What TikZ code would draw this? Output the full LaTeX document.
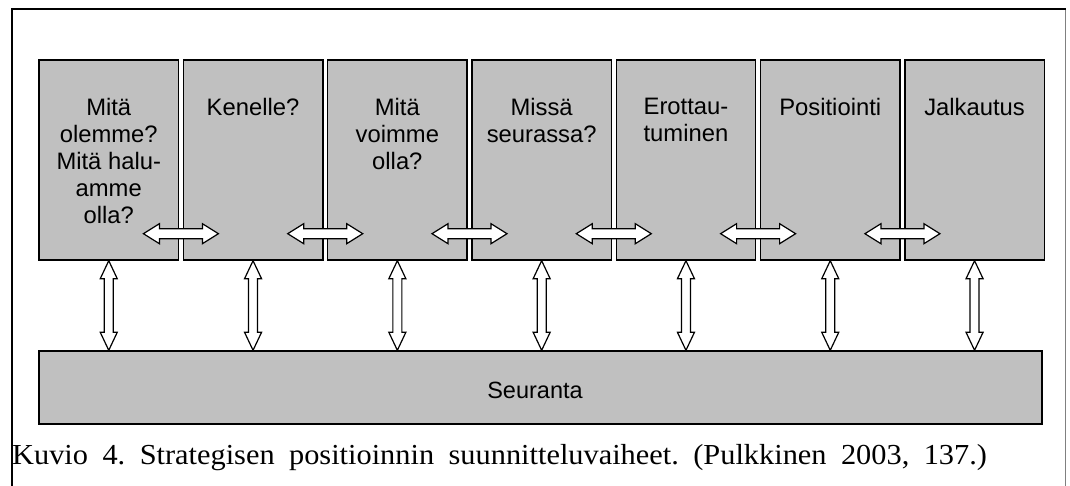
\documentclass[tikz,border=0pt]{standalone}
\usepackage{graphicx}
\usepackage{fontspec}
\setmainfont{Liberation Serif}
\newfontfamily\arialfont{Liberation Sans}
\usetikzlibrary{calc}
\definecolor{boxgrey}{HTML}{C0C0C0}
\definecolor{framegrey}{HTML}{808080}
\begin{document}
\begin{tikzpicture}[x=1pt,y=-1pt,
  stage/.style={draw=black, line width=1.4pt, fill=boxgrey, inner sep=0pt,
    minimum width=139.5pt, minimum height=200pt},
  base/.style={draw=black, line width=1.4pt, fill=boxgrey, inner sep=0pt,
    minimum width=1003pt, minimum height=73pt},
  stagetext/.style={font=\arialfont\fontsize{23.8}{26.9}\selectfont, align=center,
    inner sep=0pt, anchor=north},
  hollow/.style={draw=black, line width=1.2pt, fill=white, line join=miter},
  captiontext/.style={font=\fontsize{29}{34}\selectfont, inner sep=0pt, anchor=base west}
]
\useasboundingbox (0,0) rectangle (1070,486);
\fill[white] (0,0) rectangle (1070,486);

% frame
\draw[framegrey, line width=0.8pt] (1065.5,9) -- (1065.5,486);
\draw[black, line width=2pt] (12,486) -- (12,9) -- (1066,9);

% stage boxes
\foreach \i in {1,...,7}
  \node[stage] (b\i) at ({39+144.3*(\i-1)+69.75},160) {};

% monitoring box
\node[base] (s) at (540.5,387.5) {};
\node[font=\arialfont\fontsize{23.5}{27}\selectfont, inner sep=0pt, anchor=base]
  (st) at (535,398) {Seuranta};

% stage labels
\node[stagetext] (t1) at ($(b1.north)+(0,39)$) {Mitä\\olemme?\\Mitä halu-\\amme\\olla?};
\node[stagetext] (t2) at ($(b2.north)+(0,39)$) {Kenelle?};
\node[stagetext] (t3) at ($(b3.north)+(0,39)$) {Mitä\\voimme\\olla?};
\node[stagetext] (t4) at ($(b4.north)+(0,39)$) {Missä\\seurassa?};
\node[stagetext] (t5) at ($(b5.north)+(0,39)$) {Erottau-\\tuminen};
\node[stagetext] (t6) at ($(b6.north)+(0,39)$) {Positiointi};
\node[stagetext] (t7) at ($(b7.north)+(0,39)$) {Jalkautus};

% horizontal two-way arrows across the gaps
\foreach \i [evaluate=\i as \j using int(\i+1)] in {1,...,6} {
  \coordinate (hm\i) at ($($(b\i.south east)!0.5!(b\j.south west)$)+(0,-27)$);
  \coordinate (hl\i) at ($(hm\i)+(-37.5,0)$);
  \coordinate (hr\i) at ($(hm\i)+(37.5,0)$);
  \draw[hollow] (hl\i) -- ++(16,-10) -- ++(0,5) -- ($(hr\i)+(-16,-5)$) -- ++(0,-5)
    -- (hr\i) -- ++(-16,10) -- ++(0,-5) -- ($(hl\i)+(16,5)$) -- ++(0,5) -- cycle;
}

% vertical two-way arrows to the monitoring box
\foreach \i in {1,...,7} {
  \coordinate (vt\i) at (b\i.south);
  \coordinate (vb\i) at (b\i.south |- s.north);
  \draw[hollow] (vt\i) -- ++(8.5,18) -- ++(-4,0) -- ($(vb\i)+(4.5,-18)$) -- ++(4,0)
    -- (vb\i) -- ++(-8.5,-18) -- ++(4,0) -- ($(vt\i)+(-4.5,18)$) -- ++(-4,0) -- cycle;
}

% caption, spread over the full line
\node[captiontext] (cap) at (12,464)
  {\frenchspacing\scalebox{1.047}[1]{\makebox[931pt][s]{Kuvio 4. Strategisen positioinnin suunnitteluvaiheet. (Pulkkinen 2003, 137.)}}};
\end{tikzpicture}
\end{document}
